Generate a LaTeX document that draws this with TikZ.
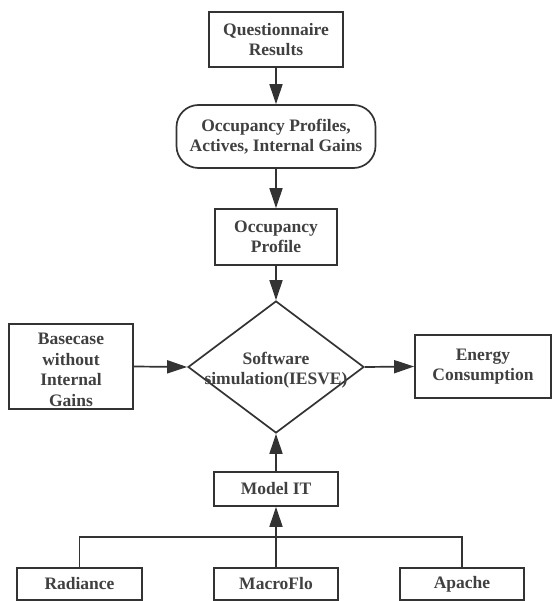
\documentclass[tikz,border=0pt]{standalone}
\usepackage{fontspec}
\newfontfamily\diagfont{LiberationSerif}[Extension=.ttf,UprightFont=*-Regular,BoldFont=*-Bold]
\usetikzlibrary{arrows.meta,shapes.geometric}
\definecolor{lc}{HTML}{333333}
\definecolor{tc}{HTML}{404040}
\begin{document}
\begin{tikzpicture}[x=1pt,y=-1pt,
  every node/.style={font=\diagfont\fontsize{17.5}{20.5}\selectfont\bfseries, text=tc, align=center, inner sep=0pt},
  box/.style={draw=lc, line width=1.7pt, fill=white},
  arr/.style={draw=lc, line width=1.7pt, -{Triangle[length=20pt,width=13pt]}},
  ln/.style={draw=lc, line width=1.7pt}]
\useasboundingbox (0,0) rectangle (554,601);
\node[box, minimum width=134pt, minimum height=55pt] (q) at (276,39.5) {Questionnaire\\Results};
\node[box, rounded corners=22pt, minimum width=199pt, minimum height=63pt] (occ) at (276,136.5) {Occupancy Profiles,\\Actives, Internal Gains};
\node[box, minimum width=122pt, minimum height=56pt] (prof) at (276,237) {Occupancy\\Profile};
\node[box, diamond, minimum width=176pt, minimum height=132pt] (sim) at (276,367) {};
\node (simt) at (276,370) {Software\\simulation(IESVE)};
\node[box, minimum width=124pt, minimum height=85pt] (base) at (71,366.5) {};
\node (baset) at (71,370) {Basecase\\without\\Internal\\Gains};
\node[box, minimum width=136pt, minimum height=63pt] (en) at (483,366.5) {Energy\\Consumption};
\node[box, minimum width=124pt, minimum height=34pt] (model) at (276,489) {Model IT};
\node[box, minimum width=125pt, minimum height=32pt] (rad) at (79.5,584) {Radiance};
\node[box, minimum width=124pt, minimum height=32pt] (mac) at (276,584) {MacroFlo};
\node[box, minimum width=124pt, minimum height=32pt] (apa) at (462,584) {Apache};
\coordinate (bus) at (276,537);
\draw[arr] (q.south) -- (occ.north);
\draw[arr] (occ.south) -- (prof.north);
\draw[arr] (prof.south) -- (sim.north);
\draw[arr] (base.east) -- (sim.west);
\draw[arr] (sim.east) -- (en.west);
\draw[arr] (model.north) -- (sim.south);
\draw[arr] (mac.north) -- (model.south);
\draw[ln] (rad.north) |- (bus) -| (apa.north);
\end{tikzpicture}
\end{document}
